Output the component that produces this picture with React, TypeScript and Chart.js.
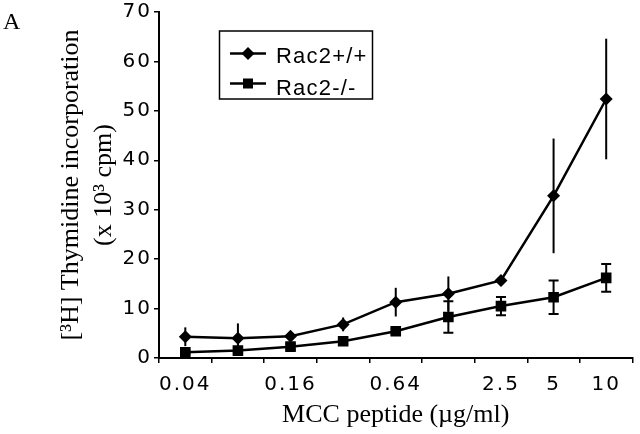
import React, { useEffect, useRef } from 'react';
import { Chart, registerables } from 'chart.js';

Chart.register(...registerables);

// ---- data ----
const categories = ['0.04', '0.08', '0.16', '0.32', '0.64', '1.25', '2.5', '5', '10'];
const tickLabels = ['0.04', '', '0.16', '', '0.64', '', '2.5', '5', '10'];
const wildType = [4.3, 4.0, 4.4, 6.8, 11.3, 13.0, 15.7, 32.8, 52.4];
const wildTypeErr = [1.9, 3.0, 0.7, 1.4, 2.9, 3.5, 0.6, 11.6, 12.2];
const knockout = [1.15, 1.5, 2.3, 3.4, 5.4, 8.3, 10.5, 12.3, 16.2];
const knockoutErr = [0.4, 0.4, 0.6, 0.5, 0.5, 3.2, 1.85, 3.4, 2.8];
const seriesNames = ['Rac2+/+', 'Rac2-/-'];
const yTitle = ['[³H] Thymidine incorporation', '(x 10³ cpm)'];
const xTitle = 'MCC peptide (µg/ml)';
const panelLabel = 'A';

const errorBarPlugin = {
  id: 'errorBars',
  beforeDatasetsDraw(chart: any) {
    const ctx = chart.ctx;
    const yScale = chart.scales.y;
    chart.data.datasets.forEach((ds: any, i: number) => {
      const meta = chart.getDatasetMeta(i);
      ctx.save();
      ctx.strokeStyle = '#000';
      ctx.lineWidth = 2;
      meta.data.forEach((el: any, j: number) => {
        const v = ds.data[j];
        const e = ds.errors[j];
        const yt = yScale.getPixelForValue(v + e);
        const yb = yScale.getPixelForValue(v - e);
        ctx.beginPath();
        ctx.moveTo(el.x, yt);
        ctx.lineTo(el.x, yb);
        if (ds.caps) {
          ctx.moveTo(el.x - 5, yt);
          ctx.lineTo(el.x + 5, yt);
          ctx.moveTo(el.x - 5, yb);
          ctx.lineTo(el.x + 5, yb);
        }
        ctx.stroke();
      });
      ctx.restore();
    });
  },
  afterDatasetsDraw(chart: any) {
    // letter spacing for the tick label layer (drawn after datasets, z = 1)
    chart.ctx.letterSpacing = '2px';
  },
  afterDraw(chart: any) {
    const ctx = chart.ctx;
    ctx.save();
    ctx.letterSpacing = '0px';
    // panel label
    ctx.fillStyle = '#000';
    ctx.font = 'normal 24px "Liberation Serif", serif';
    ctx.textAlign = 'left';
    ctx.textBaseline = 'alphabetic';
    ctx.fillText(panelLabel, 3, 29);

    // legend box
    ctx.strokeStyle = '#000';
    ctx.lineWidth = 1.5;
    ctx.strokeRect(219.5, 31, 153, 68);
    ctx.lineWidth = 2.5;
    // entry 1
    ctx.beginPath();
    ctx.moveTo(230, 53.5);
    ctx.lineTo(266, 53.5);
    ctx.stroke();
    ctx.beginPath();
    ctx.moveTo(248, 47);
    ctx.lineTo(254.5, 53.5);
    ctx.lineTo(248, 60);
    ctx.lineTo(241.5, 53.5);
    ctx.closePath();
    ctx.fill();
    // entry 2
    ctx.beginPath();
    ctx.moveTo(230, 83.5);
    ctx.lineTo(266, 83.5);
    ctx.stroke();
    ctx.fillRect(243, 78.5, 10, 10);

    ctx.letterSpacing = '1.2px';
    ctx.font = 'normal 22px "Liberation Sans", sans-serif';
    ctx.fillText(seriesNames[0], 276, 62.5);
    ctx.fillText(seriesNames[1], 276, 95);
    ctx.restore();
    ctx.letterSpacing = '0px';
  },
};

export default function App() {
  const ref = useRef<HTMLCanvasElement | null>(null);
  useEffect(() => {
    document.body.style.margin = '0';
    const canvas = ref.current;
    if (!canvas) return;
    const chart = new Chart(canvas, {
      type: 'line',
      data: {
        labels: categories,
        datasets: [
          {
            label: seriesNames[0],
            data: wildType,
            errors: wildTypeErr,
            caps: false,
            borderColor: '#000',
            backgroundColor: '#000',
            borderWidth: 2.5,
            pointStyle: 'rectRot',
            pointRadius: 6.5,
            pointBorderWidth: 0,
            tension: 0,
          } as any,
          {
            label: seriesNames[1],
            data: knockout,
            errors: knockoutErr,
            caps: true,
            borderColor: '#000',
            backgroundColor: '#000',
            borderWidth: 2.5,
            pointStyle: 'rect',
            pointRadius: 7.5,
            pointBorderWidth: 0,
            tension: 0,
          } as any,
        ],
      },
      options: {
        responsive: false,
        animation: false,
        devicePixelRatio: 1,
        layout: { padding: { top: 0, right: 6, bottom: 0, left: 0 } },
        plugins: { legend: { display: false }, tooltip: { enabled: false } },
        scales: {
          x: {
            type: 'category',
            offset: true,
            grid: { offset: true, drawOnChartArea: false, drawTicks: true, tickLength: 5, color: '#000', lineWidth: 1.5 },
            border: { color: '#000', width: 2 },
            ticks: {
              autoSkip: false,
              maxRotation: 0,
              minRotation: 0,
              padding: 10,
              color: '#000',
              z: 1,
              font: { family: '"DejaVu Sans"', size: 20, lineHeight: 1.2 },
              callback: (_v: any, i: number) => tickLabels[i],
            },
            title: {
              display: true,
              text: xTitle,
              color: '#000',
              font: { family: '"Liberation Serif", serif', size: 26, lineHeight: 1.2 },
              padding: { top: 0, bottom: 3 },
            },
            afterFit: (s: any) => {
              s.height = 76;
            },
          },
          y: {
            min: 0,
            max: 70,
            ticks: {
              stepSize: 10,
              padding: 2,
              color: '#000',
              z: 1,
              font: { family: '"DejaVu Sans"', size: 20, lineHeight: 1.0 },
            },
            grid: { drawOnChartArea: false, drawTicks: true, tickLength: 5, color: '#000', lineWidth: 1.5 },
            border: { color: '#000', width: 2 },
            title: {
              display: true,
              text: yTitle,
              color: '#000',
              font: { family: '"Liberation Serif", serif', size: 26, lineHeight: 1.25 },
              padding: { top: 55, bottom: 0 },
            },
            afterFit: (s: any) => {
              s.width = 159;
            },
          },
        },
      } as any,
      plugins: [errorBarPlugin],
    });
    return () => chart.destroy();
  }, []);
  return (
    <div style={{ width: 640, height: 434 }}>
      <canvas ref={ref} width={640} height={434} style={{ display: 'block' }} />
    </div>
  );
}
